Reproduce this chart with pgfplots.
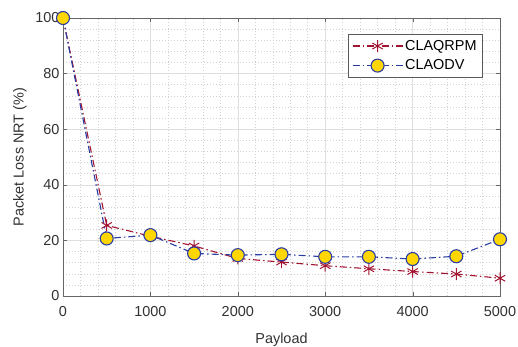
\documentclass[border=0pt]{standalone}
\usepackage{pgfplots}
\pgfplotsset{compat=1.18}
\usepackage{fontspec}
\setmainfont{Liberation Sans}
\definecolor{mred}{RGB}{162,20,47}
\definecolor{mblue}{RGB}{40,60,165}
\definecolor{myel}{RGB}{255,214,0}
\definecolor{txt}{RGB}{50,50,50}
\begin{document}
\begin{tikzpicture}
\useasboundingbox (-63bp,-51bp) rectangle (455bp,296bp);
\begin{axis}[
  scale only axis, width=437bp, height=278bp,
  xmin=0, xmax=5000, ymin=0, ymax=100,
  xtick={0,1000,...,5000}, ytick={0,20,...,100},
  minor x tick num=4, minor y tick num=4,
  grid=both,
  major grid style={gray!25, line width=0.5pt},
  minor grid style={gray!35, dash pattern=on 0.6bp off 2.4bp, line width=0.5pt},
  axis line style={gray!80!black, line width=0.6pt},
  tick style={gray!80!black},
  tick align=inside,
  major tick length=4bp, minor tick length=0pt,
  font=\fontsize{14.5}{17}\selectfont,
  tick label style={text=txt},
  xticklabel style={yshift=-7bp},
  label style={text=txt},
  /pgf/number format/assume math mode=true,
  /pgf/number format/1000 sep={},
  scaled x ticks=false,
  xlabel={Payload}, ylabel={Packet Loss NRT (\%)},
  xlabel style={yshift=-9bp},
  ylabel style={yshift=2bp},
  clip=false,
  legend style={at={(0.961,0.943)}, anchor=north east, draw=gray!70!black, line width=0.8pt, fill=white, text=black, row sep=4bp, inner sep=4bp, font=\fontsize{14.5}{17}\selectfont},
  legend cell align=left,
  legend image code/.code={\draw[mark repeat=2,mark phase=2,#1] plot coordinates {(0bp,0bp) (25bp,0bp) (50bp,0bp)};},
]
\addplot[color=mred, line width=1.1pt, dash pattern=on 7bp off 3bp on 1.5bp off 3bp, mark=asterisk, mark size=6bp, mark options={solid, line width=1pt}]
coordinates {(0,100) (500,25.4) (1000,21.5) (1500,18) (2000,13.5) (2500,12.2) (3000,10.9) (3500,9.8) (4000,8.8) (4500,7.9) (5000,6.4)};
\addplot[color=mblue, line width=1.1pt, dash pattern=on 7bp off 3bp on 1.5bp off 3bp, mark=*, mark size=6.5bp, mark options={solid, fill=myel, draw=mblue, line width=1.1pt}]
coordinates {(0,100) (500,20.7) (1000,21.9) (1500,15.3) (2000,14.7) (2500,15.0) (3000,14.1) (3500,14.1) (4000,13.3) (4500,14.3) (5000,20.4)};
\legend{CLAQRPM, CLAODV}
\end{axis}
\end{tikzpicture}
\end{document}
